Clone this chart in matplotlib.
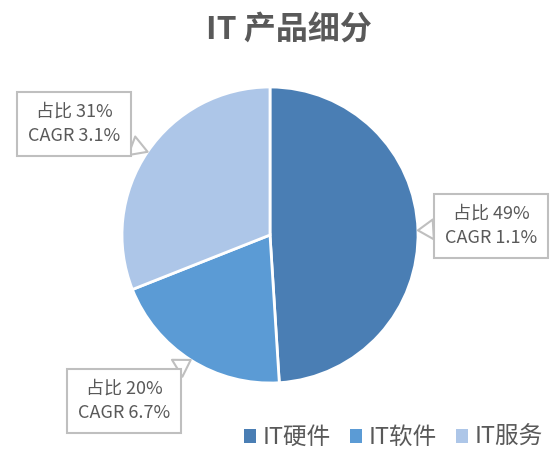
import numpy as np
import matplotlib.pyplot as plt
from matplotlib.patches import Patch

plt.rcParams['font.family'] = ['Noto Sans CJK SC', 'DejaVu Sans']

# shares and growth of each IT segment
segments = ['IT硬件', 'IT软件', 'IT服务']
shares = [49, 20, 31]
cagr = [1.1, 6.7, 3.1]
colors = ['#4a7eb4', '#5b9bd5', '#adc6e8']

# callout box centres (pixels, y measured from the top)
box_xy = [(491, 226), (124, 401), (74, 124)]

W, H = 555, 461
TEXT = '#595959'

fig = plt.figure(figsize=(W / 100, H / 100), dpi=100)
ax = fig.add_axes([0, 0, 1, 1])

cx, cy, r = 270, H - 235, 148
wedges, _ = ax.pie(shares, colors=colors, startangle=90, counterclock=False,
                   center=(cx, cy), radius=r, frame=True,
                   wedgeprops=dict(edgecolor='white', linewidth=2))
ax.set_xlim(0, W)
ax.set_ylim(0, H)
ax.set_aspect('equal')
ax.axis('off')

for w, s, g, (bx, by) in zip(wedges, shares, cagr, box_xy):
    mid = np.deg2rad((w.theta1 + w.theta2) / 2)
    tip = (cx + r * np.cos(mid), cy + r * np.sin(mid))
    ax.annotate(f'占比 {s}%\nCAGR {g}%', xy=tip, xytext=(bx, H - by),
                ha='center', va='center', fontsize=13, color=TEXT,
                linespacing=1.45,
                bbox=dict(boxstyle='square,pad=0.6', fc='white',
                          ec='#bfbfbf', lw=1.5),
                arrowprops=dict(arrowstyle='wedge,tail_width=1.1', fc='white',
                                ec='#bfbfbf', lw=1.5, shrinkA=0, shrinkB=0))

fig.text(289 / W, 1 - 30 / H, 'IT 产品细分', ha='center', va='center',
         fontsize=23, fontweight='bold', color=TEXT)

handles = [Patch(facecolor=c, edgecolor='none') for c in colors]
leg = fig.legend(handles, segments, loc='lower right', ncol=3, frameon=False,
                 bbox_to_anchor=(1.0, 0.0), fontsize=17,
                 handlelength=0.5, handleheight=0.5, handletextpad=0.3,
                 columnspacing=0.8, borderaxespad=0.1)
for t in leg.get_texts():
    t.set_color(TEXT)

fig.savefig('out.png', dpi=100)
